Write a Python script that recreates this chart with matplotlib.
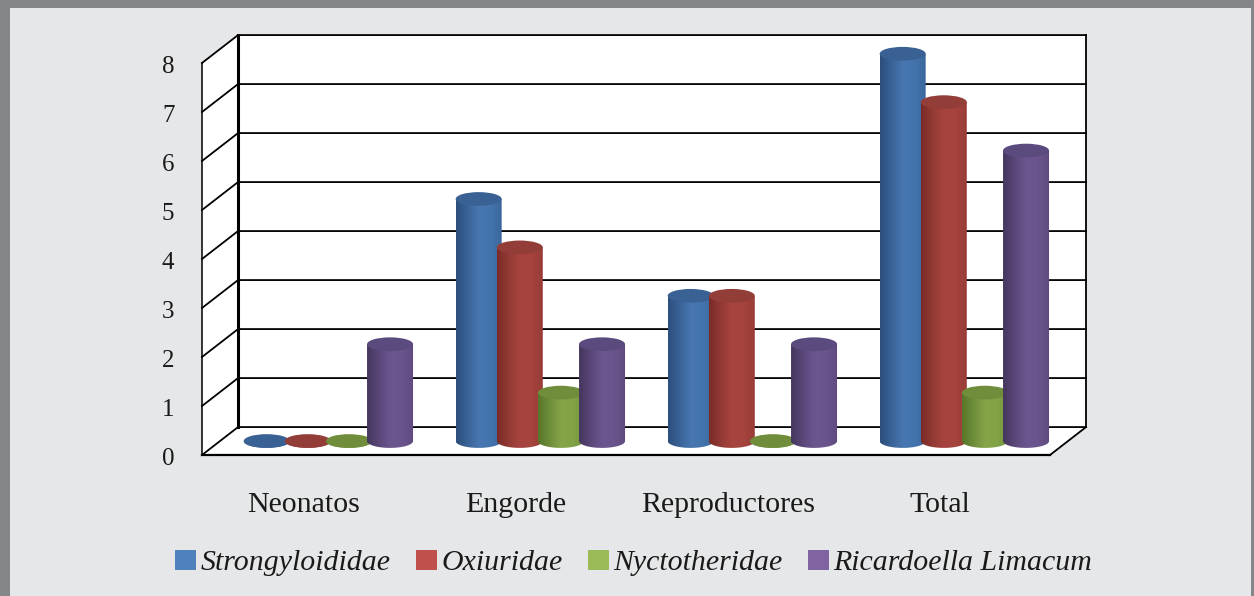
import numpy as np
import matplotlib.pyplot as plt
from matplotlib.patches import Polygon, Ellipse, Rectangle, Patch
from matplotlib.colors import LinearSegmentedColormap

# datos
categorias = ["Neonatos", "Engorde", "Reproductores", "Total"]
series = ["Strongyloididae", "Oxiuridae", "Nyctotheridae", "Ricardoella Limacum"]
strongyloididae = [0, 5, 3, 8]
oxiuridae = [0, 4, 3, 7]
nyctotheridae = [0, 1, 0, 1]
ricardoella = [2, 2, 2, 6]
valores = [strongyloididae, oxiuridae, nyctotheridae, ricardoella]
yticks = list(range(0, 9))

# colores
col_leyenda = ["#4f81bd", "#c0504d", "#9bbb59", "#8064a2"]
col_tapa = ["#3a6194", "#933d38", "#6f8d3b", "#5b4a7e"]
col_cuerpo = [
    ["#2c4f7c", "#3a6398", "#4877b1", "#4474ad", "#3a6699"],
    ["#7a2b27", "#933a35", "#a8443f", "#a5433e", "#983b36"],
    ["#57762b", "#6f8e3a", "#86a549", "#82a246", "#76963e"],
    ["#45365f", "#5a4779", "#6c5690", "#6a548d", "#5f4b80"],
]

plt.rcParams['font.family'] = ['Liberation Serif', 'DejaVu Serif']

fig = plt.figure(figsize=(12.54, 5.96), dpi=100)
fig.patch.set_facecolor('#85868a')
fig.add_artist(Rectangle((10 / 1254, 0), 1241 / 1254, 588 / 596, transform=fig.transFigure,
                         facecolor='#e6e7e8', edgecolor='none', zorder=0))

ax = fig.add_axes([0, 0, 1, 1])
xlim = (-202 * 4 / 848, (1254 - 202) * 4 / 848)
ylim = (-(596 - 455) / 49, 455 / 49)
ax.axis('off')

n = len(categorias)
ymax = yticks[-1]
dx, dy = 0.17, 0.57  # profundidad del grafico 3d

# paredes y piso
ax.add_patch(Polygon([(0, 0), (dx, dy), (dx, ymax + dy), (0, ymax)], facecolor='white', edgecolor='none', zorder=1))
ax.add_patch(Polygon([(dx, dy), (n + dx, dy), (n + dx, ymax + dy), (dx, ymax + dy)], facecolor='white', edgecolor='none', zorder=1))
ax.add_patch(Polygon([(0, 0), (n, 0), (n + dx, dy), (dx, dy)], facecolor='white', edgecolor='none', zorder=1))

for v in yticks:
    ax.plot([0, dx, n + dx], [v, v + dy, v + dy], color='black', lw=1.3, zorder=2)
ax.plot([0, 0], [0, ymax], color='black', lw=1.1, zorder=2)
ax.plot([dx, dx], [dy, ymax + dy], color='black', lw=2.2, zorder=2)
ax.plot([n + dx, n + dx], [dy, ymax + dy], color='black', lw=1.3, zorder=2)
ax.plot([0, n], [0, 0], color='black', lw=1.6, zorder=2)
ax.plot([n, n + dx], [0, dy], color='black', lw=1.3, zorder=2)

# cilindros
ancho = 0.217
eh = 0.28
sep = 0.194
grad = np.linspace(0, 1, 120).reshape(1, -1)


def cilindro(cx, base, top, cmap, ctop, z):
    th = np.linspace(np.pi, 2 * np.pi, 80)
    xs = np.concatenate([[cx - ancho / 2], cx + ancho / 2 * np.cos(th), [cx + ancho / 2]])
    ys = np.concatenate([[top], base + eh / 2 * np.sin(th), [top]])
    patch = Polygon(np.column_stack([xs, ys]), closed=True, facecolor='none', edgecolor='none', zorder=z)
    ax.add_patch(patch)
    im = ax.imshow(grad, cmap=cmap, extent=[cx - ancho / 2, cx + ancho / 2, base - eh / 2, top],
                   aspect='auto', zorder=z, interpolation='bilinear')
    im.set_clip_path(patch)
    ax.add_patch(Ellipse((cx, top), ancho, eh, facecolor=ctop, edgecolor='none', zorder=z + 0.05))


for i in range(n):
    for k in range(len(series)):
        cmap = LinearSegmentedColormap.from_list('c%d' % k, col_cuerpo[k])
        cx = i + 0.22 + k * sep + dx / 2
        base = dy / 2
        # escala un poco menor en la profundidad media
        cilindro(cx, base, base + valores[k][i] * 0.988, cmap, col_tapa[k], 3 + i * 0.5 + k * 0.1)

# etiquetas
for v in yticks:
    ax.text(-0.13, v - 0.09, str(v), ha='right', va='center', fontsize=18, color='#1a1a1a')
for i, cat in enumerate(categorias):
    ax.text(i + 0.48, -1.03, cat, ha='center', va='center', fontsize=21.5, color='#1a1a1a')

handles = [Patch(facecolor=c, edgecolor='none') for c in col_leyenda]
ax.legend(handles, series, loc='center', bbox_to_anchor=(634 / 1254, 1 - 563 / 596),
          bbox_transform=fig.transFigure, ncol=4, frameon=False,
          prop={'style': 'italic', 'size': 21.5}, handlelength=0.7, handleheight=0.7,
          handletextpad=0.15, columnspacing=0.85, labelcolor='#1a1a1a')

ax.set_xlim(xlim)
ax.set_ylim(ylim)
fig.savefig('out.png', dpi=100, facecolor=fig.get_facecolor())
